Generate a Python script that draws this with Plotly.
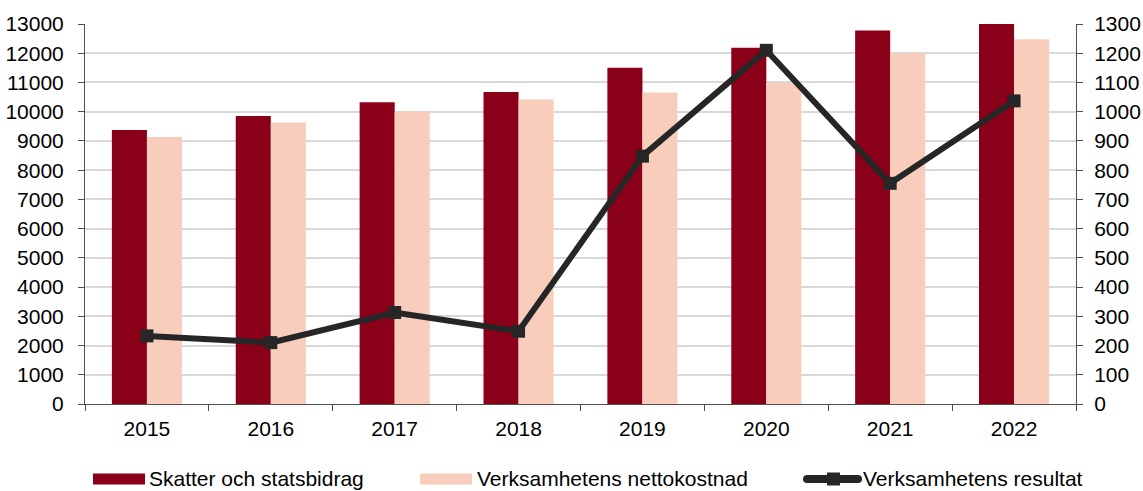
import plotly.graph_objects as go

# Data
years = ["2015", "2016", "2017", "2018", "2019", "2020", "2021", "2022"]
skatter = [9370, 9850, 10320, 10670, 11500, 12190, 12780, 13020]
nettokostnad = [9130, 9630, 10010, 10420, 10660, 11000, 12020, 12480]
resultat = [233, 210, 313, 249, 848, 1210, 755, 1037]

left_ticks = list(range(0, 13001, 1000))
right_ticks = list(range(0, 1301, 100))

names = ["Skatter och statsbidrag", "Verksamhetens nettokostnad", "Verksamhetens resultat"]

RED = "#8B0019"
PEACH = "#F8CDBB"
DARK = "#262626"
AXIS = "#4D4D4D"
FONT = "Liberation Sans, Arial, sans-serif"

W, H = 1143, 491
ML, MR, MT, MB = 85, 67, 24, 87
PW, PH = W - ML - MR, H - MT - MB


def px_x(x):
    return (x - ML) / PW


def px_y(y):
    return (H - MB - y) / PH


fig = go.Figure()
fig.add_trace(go.Bar(x=years, y=skatter, name=names[0], marker_color=RED,
                     marker_line_width=0, showlegend=False))
fig.add_trace(go.Bar(x=years, y=nettokostnad, name=names[1], marker_color=PEACH,
                     marker_line_width=0, showlegend=False))
fig.add_trace(go.Scatter(x=years, y=resultat, name=names[2], yaxis="y2",
                         mode="lines+markers",
                         line=dict(color=DARK, width=6),
                         marker=dict(symbol="square", size=13, color=DARK),
                         showlegend=False))

# Legend row below the axis
LY = 479  # vertical centre of the legend row, in pixels from the top
shapes = [
    dict(type="rect", xref="paper", yref="paper",
         x0=px_x(93), x1=px_x(145), y0=px_y(LY + 5.5), y1=px_y(LY - 5.5),
         fillcolor=RED, line_width=0),
    dict(type="rect", xref="paper", yref="paper",
         x0=px_x(420), x1=px_x(472), y0=px_y(LY + 5.5), y1=px_y(LY - 5.5),
         fillcolor=PEACH, line_width=0),
    dict(type="line", xref="paper", yref="paper",
         x0=px_x(807), x1=px_x(858), y0=px_y(LY), y1=px_y(LY),
         line=dict(color=DARK, width=8)),
    dict(type="rect", xref="paper", yref="paper",
         x0=px_x(827), x1=px_x(840), y0=px_y(LY + 6.5), y1=px_y(LY - 6.5),
         fillcolor=DARK, line_width=0),
]
for cx in (807, 858):
    shapes.append(dict(type="circle", xref="paper", yref="paper",
                       x0=px_x(cx - 4), x1=px_x(cx + 4),
                       y0=px_y(LY + 4), y1=px_y(LY - 4),
                       fillcolor=DARK, line_width=0))

annotations = []
for name, xl in zip(names, (150, 478, 864)):
    annotations.append(dict(text=name, xref="paper", yref="paper",
                            x=px_x(xl - 2), y=px_y(LY - 1), xanchor="left",
                            yanchor="middle", showarrow=False, borderpad=0,
                            font=dict(family=FONT, size=21, color="#000000")))

fig.update_layout(
    width=W, height=H,
    margin=dict(l=ML, r=MR, t=MT, b=MB, pad=0, autoexpand=False),
    paper_bgcolor="white", plot_bgcolor="white",
    font=dict(family=FONT, size=21, color="#000000"),
    barmode="group", bargap=0.434, bargroupgap=0,
    showlegend=False,
    shapes=shapes,
    annotations=annotations,
    xaxis=dict(
        type="category", range=[-0.5, 7.5], automargin=False,
        showline=True, linecolor=AXIS, linewidth=1,
        ticks="outside", ticklen=6, tickcolor=AXIS, tickson="boundaries",
        ticklabelstandoff=6, showgrid=False,
    ),
    yaxis=dict(
        range=[0, 13000], tickvals=left_ticks, automargin=False,
        ticktext=[str(v) for v in left_ticks],
        showline=True, linecolor=AXIS, linewidth=1,
        ticks="outside", ticklen=6, tickcolor=AXIS,
        showgrid=True, gridcolor="#D9D9D9", gridwidth=1.5,
        zeroline=False, ticklabelstandoff=10,
    ),
    yaxis2=dict(
        range=[0, 1300], tickvals=right_ticks, automargin=False,
        ticktext=[str(v) for v in right_ticks],
        overlaying="y", side="right",
        showline=True, linecolor=AXIS, linewidth=1,
        ticks="outside", ticklen=6, tickcolor=AXIS,
        showgrid=False, zeroline=False, ticklabelstandoff=7,
    ),
)

fig.write_html("out.html")
